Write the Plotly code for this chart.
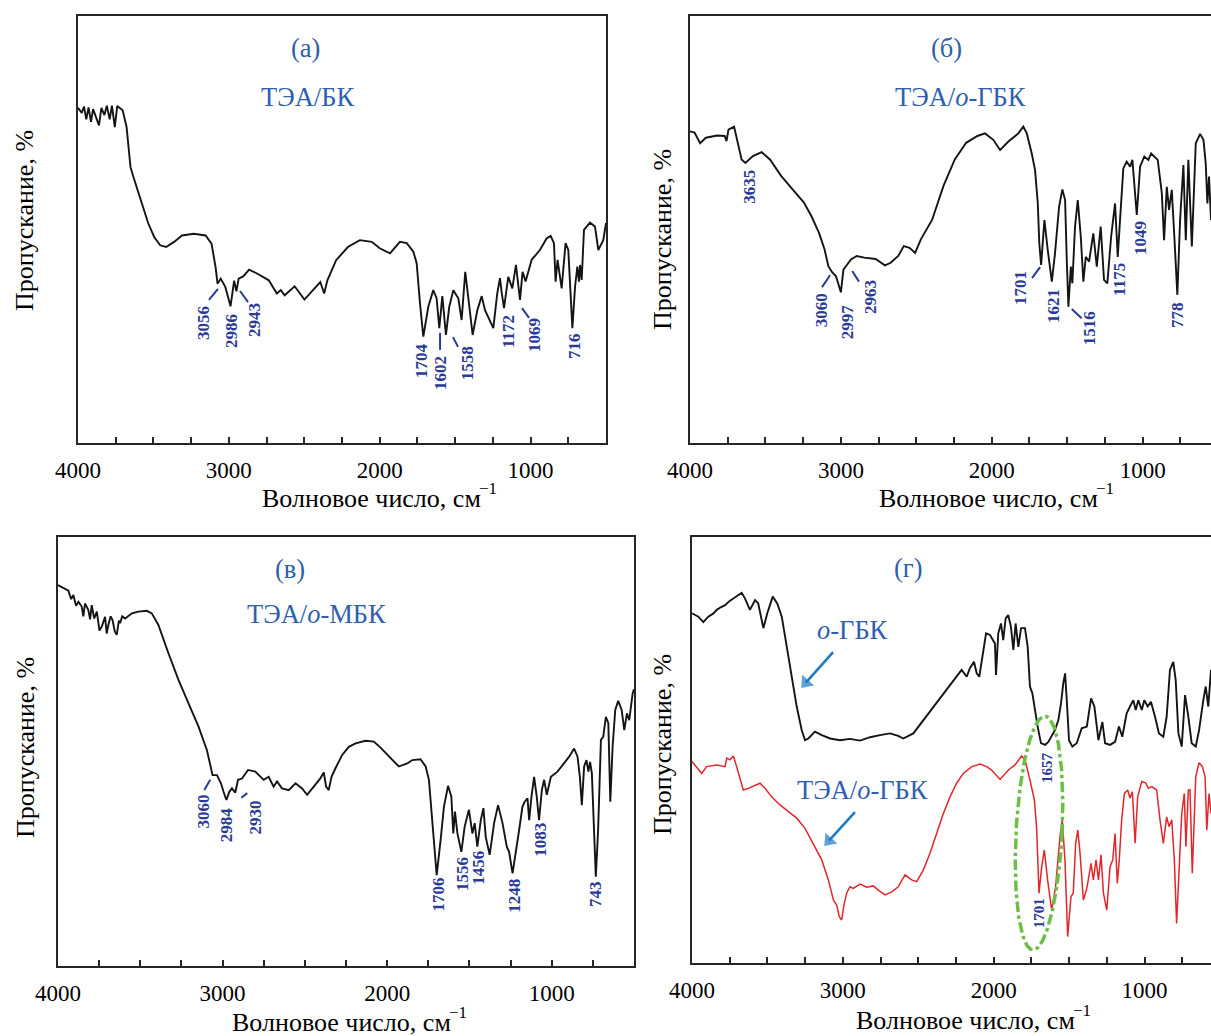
import numpy as np
import plotly.graph_objects as go

W, H = 1211, 1036

# ---------------- data: wavenumber (cm-1) and transmittance (arb. %) ----------------
# (а) ТЭА/БК
a_wn = [4000, 3975, 3960, 3945, 3930, 3914, 3900, 3880, 3861, 3845, 3825, 3809, 3790, 3775, 3756, 3740,
        3720, 3704, 3678, 3652, 3630, 3612, 3573, 3534, 3494, 3455, 3416, 3363, 3311, 3232, 3154, 3115,
        3088, 3075, 3054, 3023, 2989, 2965, 2950, 2935, 2905, 2866, 2813, 2735, 2682, 2656, 2630, 2564,
        2499, 2446, 2394, 2368, 2347, 2289, 2211, 2132, 2053, 2000, 1932, 1866, 1821, 1777, 1755, 1733,
        1711, 1678, 1645, 1623, 1605, 1585, 1561, 1539, 1512, 1479, 1457, 1433, 1413, 1384, 1353, 1324,
        1302, 1269, 1247, 1221, 1203, 1192, 1176, 1148, 1121, 1097, 1070, 1053, 1033, 993, 938, 894,
        867, 845, 834, 821, 794, 768, 750, 723, 705, 690, 679, 672, 661, 646, 606, 573, 551, 518, 500]
a_T = [78.5, 77.3, 78.8, 75.8, 78.6, 75.2, 78.2, 76.4, 74.4, 78.5, 76.8, 79.0, 75.8, 79.0, 74.0, 78.9,
       78.4, 77.9, 74.0, 64.6, 62.0, 60.0, 55.3, 51.4, 48.2, 46.3, 45.9, 47.1, 48.6, 49.0, 48.6, 46.7,
       41.2, 37.3, 38.5, 36.5, 32.0, 38.0, 35.5, 38.5, 39.0, 40.6, 39.7, 38.1, 35.0, 35.8, 34.6, 36.7,
       33.6, 35.8, 37.7, 35.0, 38.1, 42.8, 45.9, 47.5, 47.1, 45.6, 44.4, 47.1, 46.8, 44.8, 42.1, 32.7,
       24.9, 31.9, 35.8, 33.9, 26.9, 34.4, 25.3, 31.9, 35.8, 33.9, 28.8, 40.1, 34.4, 25.3, 31.1, 34.4,
       31.1, 28.4, 26.9, 35.0, 38.6, 35.4, 31.6, 38.9, 36.2, 41.7, 33.5, 40.1, 37.8, 42.9, 45.2, 47.9,
       48.5, 46.8, 37.8, 42.9, 36.2, 46.8, 45.2, 26.9, 36.6, 41.3, 37.8, 41.7, 38.2, 49.9, 51.6, 50.7,
       45.2, 47.5, 51.5]

# (б) ТЭА/о-ГБК
b_wn = [4000, 3970, 3933, 3895, 3820, 3770, 3758, 3745, 3708, 3683, 3658, 3633, 3583, 3525, 3470, 3395,
        3320, 3245, 3195, 3145, 3108, 3083, 3058, 3033, 3000, 2983, 2958, 2933, 2895, 2845, 2770, 2708,
        2670, 2620, 2583, 2545, 2508, 2470, 2395, 2320, 2245, 2170, 2095, 2045, 1990, 1945, 1890, 1824,
        1791, 1768, 1735, 1713, 1695, 1685, 1673, 1651, 1629, 1602, 1581, 1554, 1532, 1514, 1503, 1492,
        1476, 1466, 1448, 1430, 1410, 1393, 1377, 1355, 1327, 1304, 1278, 1256, 1234, 1209, 1183, 1165,
        1150, 1128, 1106, 1083, 1068, 1039, 1017, 989, 962, 944, 900, 873, 858, 840, 825, 807, 790, 770,
        752, 730, 714, 697, 674, 648, 619, 597, 582, 571, 560, 547]
b_T = [73.0, 72.7, 70.2, 71.5, 72.0, 71.9, 70.7, 73.4, 74.1, 70.3, 66.4, 65.6, 67.2, 68.1, 66.4, 62.5,
       59.4, 56.3, 53.1, 49.2, 45.3, 41.4, 40.0, 39.1, 35.3, 40.6, 41.8, 43.0, 43.8, 43.4, 43.1, 41.6,
       42.2, 43.8, 46.1, 45.7, 44.5, 47.7, 52.3, 60.2, 66.4, 70.3, 71.9, 72.5, 71.0, 68.6, 70.6, 72.5,
       74.1, 72.5, 67.8, 63.9, 56.1, 46.8, 41.7, 52.2, 45.2, 37.8, 44.4, 55.3, 59.4, 56.9, 42.9, 31.9,
       41.3, 37.4, 50.7, 56.9, 48.3, 37.8, 43.6, 42.5, 49.1, 41.3, 50.7, 38.2, 37.4, 48.3, 56.1, 43.6,
       52.2, 64.3, 65.9, 64.7, 66.3, 53.4, 64.7, 67.1, 66.3, 67.8, 66.3, 58.5, 47.5, 60.0, 54.6, 59.3, 48.3, 34.7,
       52.2, 65.1, 47.5, 66.3, 46.0, 70.2, 72.4, 71.0, 65.5, 56.1, 62.4, 52.2]

# (в) ТЭА/о-МБК
c_wn = [4000, 3937, 3920, 3907, 3890, 3876, 3856, 3846, 3836, 3816, 3805, 3795, 3780, 3764, 3748, 3734,
        3714, 3704, 3694, 3680, 3669, 3655, 3643, 3630, 3623, 3610, 3592, 3551, 3511, 3460, 3430, 3390,
        3329, 3268, 3207, 3146, 3095, 3075, 3061, 3034, 3010, 2994, 2977, 2959, 2943, 2923, 2906, 2882,
        2845, 2801, 2750, 2720, 2690, 2669, 2639, 2598, 2557, 2517, 2486, 2446, 2405, 2385, 2371, 2355,
        2338, 2314, 2273, 2233, 2192, 2131, 2081, 2040, 1979, 1929, 1878, 1847, 1797, 1766, 1746, 1726,
        1699, 1675, 1655, 1630, 1610, 1598, 1588, 1573, 1549, 1529, 1503, 1482, 1468, 1452, 1431, 1415,
        1401, 1377, 1350, 1326, 1299, 1273, 1259, 1238, 1218, 1198, 1178, 1164, 1147, 1137, 1123, 1107,
        1091, 1077, 1060, 1046, 1030, 1005, 965, 924, 894, 864, 843, 829, 817, 803, 789, 777, 767, 756,
        742, 732, 718, 701, 687, 671, 656, 644, 630, 614, 596, 575, 559, 543, 529, 508, 500]
c_T = [88.8, 87.5, 85.5, 86.5, 84.0, 84.9, 83.8, 81.5, 84.5, 83.0, 80.8, 84.1, 81.0, 82.6, 78.2, 79.1,
       81.4, 77.5, 79.5, 81.5, 80.7, 78.0, 77.2, 80.5, 79.9, 81.5, 81.0, 82.2, 82.6, 82.8, 82.2, 79.5,
       72.9, 66.7, 61.2, 55.8, 50.3, 46.5, 44.5, 44.5, 42.6, 40.6, 38.7, 40.6, 41.4, 40.4, 43.4, 43.7,
       45.7, 45.3, 43.4, 44.1, 41.8, 43.0, 41.4, 41.0, 42.6, 41.4, 39.9, 41.8, 43.8, 45.1, 41.8, 41.0,
       44.1, 46.1, 49.2, 51.1, 51.9, 52.5, 52.3, 50.9, 48.4, 46.5, 47.2, 48.0, 48.2, 46.5, 43.4, 34.0,
       21.2, 29.4, 37.1, 42.0, 39.5, 30.9, 36.0, 30.9, 26.6, 32.5, 36.4, 30.9, 33.3, 27.8, 34.0, 36.8,
       30.1, 25.9, 33.3, 37.5, 33.3, 27.8, 26.6, 21.6, 26.3, 31.7, 37.1, 38.3, 39.1, 34.0, 39.5, 44.1,
       39.5, 34.0, 41.0, 43.4, 39.9, 44.1, 45.3, 47.2, 48.8, 50.7, 48.8, 44.1, 37.5, 46.5, 48.0, 45.3, 47.6, 44.9,
       31.7, 20.8, 31.7, 52.7, 53.4, 58.1, 56.6, 38.3, 51.1, 59.7, 61.8, 59.7, 55.0, 58.9, 57.3, 63.6, 64.5]

# (г) о-ГБК (black)
d1_wn = [4000, 3958, 3925, 3892, 3860, 3836, 3810, 3781, 3750, 3726, 3693, 3671, 3649, 3616, 3582, 3561,
         3527, 3501, 3465, 3435, 3405, 3372, 3339, 3306, 3273, 3251, 3229, 3185, 3140, 3085, 3019, 2953,
         2886, 2820, 2754, 2688, 2633, 2600, 2533, 2467, 2401, 2334, 2268, 2213, 2179, 2158, 2131, 2113,
         2096, 2073, 2051, 2025, 1992, 1985, 1970, 1952, 1937, 1921, 1904, 1886, 1870, 1855, 1837, 1819,
         1793, 1775, 1760, 1744, 1727, 1709, 1687, 1660, 1638, 1616, 1594, 1572, 1554, 1539, 1527, 1516,
         1501, 1479, 1450, 1417, 1383, 1355, 1333, 1306, 1280, 1262, 1229, 1196, 1170, 1148, 1119, 1097,
         1075, 1059, 1042, 1019, 1002, 980, 958, 931, 905, 876, 854, 832, 810, 794, 776, 754, 732, 710,
         688, 661, 639, 611, 595, 578, 560]
d1_T = [82.1, 81.3, 80.0, 81.3, 82.0, 82.9, 83.5, 84.0, 85.0, 85.6, 86.4, 86.9, 85.6, 82.9, 85.2, 84.4,
        78.6, 82.1, 86.0, 84.4, 81.3, 74.2, 66.4, 60.2, 54.7, 52.3, 52.7, 54.3, 53.5, 52.7, 52.3, 52.6,
        52.2, 53.0, 53.5, 53.9, 53.3, 52.7, 53.9, 57.0, 60.2, 63.3, 66.4, 68.8, 67.2, 69.2, 70.7, 68.0,
        67.2, 71.9, 77.4, 77.0, 75.0, 67.6, 77.4, 79.7, 75.8, 80.9, 81.7, 78.9, 73.5, 79.7, 74.2, 78.6,
        78.6, 74.2, 64.9, 63.3, 59.4, 55.5, 51.6, 51.2, 51.9, 53.5, 54.7, 57.0, 61.0, 65.7, 68.0, 61.7,
        52.3, 50.8, 51.6, 55.1, 55.5, 62.1, 60.2, 52.3, 56.6, 51.6, 51.2, 51.9, 55.5, 53.1, 58.6, 60.2,
        61.7, 59.4, 61.7, 59.4, 61.7, 60.2, 61.3, 57.8, 53.9, 53.1, 57.8, 68.8, 70.7, 66.4, 53.9, 50.8, 62.9, 57.8,
        51.6, 50.8, 54.7, 61.7, 64.9, 60.2, 68.8]

# (г) ТЭА/о-ГБК (red)
d2_wn = [4000, 3958, 3936, 3903, 3836, 3781, 3770, 3748, 3726, 3704, 3682, 3660, 3627, 3582, 3549, 3516,
         3472, 3417, 3362, 3306, 3251, 3196, 3140, 3096, 3063, 3041, 3024, 3008, 2993, 2975, 2953, 2931,
         2886, 2842, 2798, 2765, 2721, 2676, 2633, 2588, 2544, 2511, 2467, 2422, 2378, 2334, 2290, 2246,
         2202, 2146, 2091, 2047, 2014, 1958, 1903, 1859, 1815, 1793, 1760, 1731, 1716, 1700, 1682, 1665,
         1643, 1616, 1590, 1561, 1546, 1528, 1510, 1488, 1473, 1457, 1443, 1428, 1406, 1383, 1355, 1340,
         1322, 1306, 1289, 1273, 1251, 1229, 1211, 1196, 1181, 1168, 1152, 1134, 1112, 1097, 1081, 1063,
         1046, 1019, 993, 975, 953, 920, 898, 876, 854, 838, 820, 803, 788, 772, 754, 737, 726, 710, 699,
         684, 661, 639, 617, 599, 588, 573, 560]
d2_T = [47.3, 45.3, 44.5, 46.1, 46.5, 46.1, 48.1, 47.7, 48.6, 46.1, 43.0, 40.6, 41.0, 41.8, 42.2, 41.0,
        39.0, 37.1, 35.5, 34.0, 31.6, 28.1, 24.2, 19.5, 14.8, 13.6, 10.9, 10.1, 13.6, 16.4, 17.9, 17.5,
        18.5, 17.8, 18.1, 17.1, 16.0, 16.7, 17.9, 20.7, 19.5, 19.1, 21.8, 25.8, 30.4, 35.1, 39.0, 42.2,
        44.5, 46.1, 46.7, 46.1, 45.3, 43.1, 45.3, 46.5, 48.6, 47.7, 43.0, 38.3, 32.0, 16.4, 22.6, 26.5,
        19.5, 12.4, 17.9, 29.6, 33.6, 24.2, 6.2, 15.6, 16.4, 28.1, 31.2, 25.8, 14.8, 17.5, 23.4, 19.5,
        24.2, 19.5, 25.4, 16.4, 12.4, 22.6, 24.2, 30.4, 18.7, 24.2, 33.6, 39.8, 40.6, 38.7, 40.2, 28.1,
        39.0, 42.6, 42.3, 41.0, 41.4, 40.6, 33.6, 28.1, 34.3, 32.0, 33.6, 24.2, 9.3, 22.6, 35.1, 39.8, 27.3, 40.6, 40.6,
        21.1, 43.7, 47.0, 46.1, 43.7, 31.2, 39.8, 35.1]

tick_vals = [4000, 3000, 2000, 1000]
tick_text = ["4000", "3000", "2000", "1000"]

# peak labels: (text, wavenumber, transmittance) per panel
a_peaks = [("3056", 3171, 28.1), ("2986", 2986, 26.2), ("2943", 2833, 28.8), ("1704", 1726, 19.2),
           ("1602", 1594, 16.4), ("1558", 1421, 18.7), ("1172", 1150, 26.2), ("1069", 971, 25.3),
           ("716", 712, 22.7)]
b_peaks = [("3635", 3602, 60.0), ("3060", 3132, 31.1), ("2997", 2959, 28.3), ("2963", 2800, 34.2),
           ("1701", 1806, 36.3), ("1621", 1587, 32.1), ("1516", 1355, 26.9), ("1175", 1150, 38.2),
           ("1049", 1017, 48.0), ("778", 765, 30.0)]
c_peaks = [("3060", 3117, 36.1), ("2984", 2977, 32.9), ("2930", 2801, 34.7), ("1706", 1687, 16.6),
           ("1556", 1547, 21.4), ("1456", 1444, 22.8), ("1248", 1231, 16.3), ("1083", 1066, 29.4),
           ("743", 731, 16.8)]
d_peaks = [("1657", 1647, 45.8), ("1701", 1700, 11.7)]

# ---------------- styling ----------------
BLACK = '#141414'
RED = '#E2262B'
PEAK_BLUE = '#2B3A97'
TITLE_BLUE = '#2E60AC'
ARROW_BLUE = '#1E7BC3'
GREEN = '#6CBF46'
FRAME = '#262626'
SERIF = 'Liberation Serif, Times New Roman, serif'

# panel frames in pixels (left, right, top, bottom) and x-range end
geo = [
    dict(l=78, r=606, t=16, b=443, xend=500, mirror_y=True),
    dict(l=690, r=1211, t=16, b=443, xend=547, mirror_y=False),
    dict(l=58, r=634, t=537, b=966, xend=500, mirror_y=True),
    dict(l=692, r=1211, t=537, b=963, xend=560, mirror_y=False),
]

fig = go.Figure()

def add_line(i, wn, T, color, width=1.9):
    fig.add_trace(go.Scatter(x=wn, y=T, mode='lines', line=dict(color=color, width=width),
                             xaxis=f'x{i}', yaxis=f'y{i}', showlegend=False, hoverinfo='skip'))

add_line(1, a_wn, a_T, BLACK)
add_line(2, b_wn, b_T, BLACK)
add_line(3, c_wn, c_T, BLACK)
add_line(4, d1_wn, d1_T, BLACK)
add_line(4, d2_wn, d2_T, RED, 1.5)

# green dash-dot ellipse in panel (г): centre, semi-axes in px, tilt
g = geo[3]
px_per_wn = (g['r'] - g['l']) / (4000 - g['xend'])
px_per_T = (g['b'] - g['t']) / 100.0
tt = np.linspace(0, 2 * np.pi, 240)
ea, eb, phi = 117.0, 23.0, np.deg2rad(3)
dx = eb * np.cos(tt)
dy = ea * np.sin(tt)
xr = dx * np.cos(phi) + dy * np.sin(phi)
yr = -dx * np.sin(phi) + dy * np.cos(phi)
fig.add_trace(go.Scatter(x=1700 - xr / px_per_wn, y=30.5 + yr / px_per_T, mode='lines',
                         line=dict(color=GREEN, width=3.5, dash='dashdot'),
                         xaxis='x4', yaxis='y4', showlegend=False, hoverinfo='skip'))

# blue arrows in panel (г): tail -> head
for (tx, ty, hx, hy) in [(3065, 73.0, 3245, 65.8), (2920, 35.4, 3092, 28.7)]:
    fig.add_trace(go.Scatter(x=[tx, hx], y=[ty, hy], mode='lines+markers',
                             line=dict(color=ARROW_BLUE, width=2.6),
                             marker=dict(symbol=['circle', 'triangle-up'], size=[0.1, 14],
                                         color=ARROW_BLUE, angleref='previous', line=dict(width=0)),
                             xaxis='x4', yaxis='y4', showlegend=False, hoverinfo='skip'))

layout = dict(width=W, height=H, margin=dict(l=0, r=0, t=0, b=0, autoexpand=False),
              paper_bgcolor='white', plot_bgcolor='white', showlegend=False)
minor_vals = [v for v in range(500, 4001, 250) if v not in tick_vals]
for i, gg in enumerate(geo, start=1):
    layout[f'xaxis{i}'] = dict(
        domain=[gg['l'] / W, gg['r'] / W], range=[4000, gg['xend']], anchor=f'y{i}',
        showline=True, linecolor=FRAME, linewidth=2, mirror=True, automargin=False,
        ticks='inside', ticklen=6, tickwidth=1.5, tickcolor=FRAME,
        tickmode='array', tickvals=tick_vals, ticktext=tick_text,
        tickfont=dict(family=SERIF, size=23, color='black'),
        minor=dict(tickmode='array', tickvals=minor_vals, ticks='inside', ticklen=6, tickwidth=1.5, tickcolor=FRAME),
        showgrid=False, zeroline=False, ticklabelstandoff=5)
    layout[f'yaxis{i}'] = dict(
        domain=[1 - gg['b'] / H, 1 - gg['t'] / H], range=[0, 100], anchor=f'x{i}',
        showline=True, linecolor=FRAME, linewidth=2, mirror=gg['mirror_y'], automargin=False,
        showticklabels=False, ticks='', showgrid=False, zeroline=False)

ann = []
# x-axis titles: main text right-anchored, superscript "−1" placed after it
xt = [(483, 498), (1100, 498), (453, 1022), (1077, 1020)]
yt = [(25, 221), (663, 240), (25, 748), (662, 745)]
for (px, py) in xt:
    ann.append(dict(x=px / W, y=1 - py / H, xref='paper', yref='paper', showarrow=False,
                    text='Волновое число, см', xanchor='right', yanchor='middle',
                    font=dict(family=SERIF, size=26, color='black')))
    ann.append(dict(x=px / W, y=1 - py / H, xref='paper', yref='paper', showarrow=False,
                    text='−1', xanchor='left', yanchor='middle', yshift=10, xshift=-6,
                    font=dict(family=SERIF, size=17, color='black')))
for (px, py) in yt:
    ann.append(dict(x=px / W, y=1 - py / H, xref='paper', yref='paper', showarrow=False,
                    text='Пропускание, %', textangle=-90, xanchor='center', yanchor='middle',
                    font=dict(family=SERIF, size=26, color='black')))

# panel titles
titles = [(1, '(а)', 2489, 92.5), (1, 'ТЭА/БК', 2482, 81.0),
          (2, '(б)', 2303, 92.5), (2, 'ТЭА/<i>о</i>-ГБК', 2210, 81.0),
          (3, '(в)', 2588, 92.5), (3, 'ТЭА/<i>о</i>-МБК', 2430, 82.1),
          (4, '(г)', 2568, 92.7), (4, '<i>о</i>-ГБК', 2933, 78.2), (4, 'ТЭА/<i>о</i>-ГБК', 2867, 40.6)]
for i, txt, x, y in titles:
    ann.append(dict(x=x, y=y, xref=f'x{i}', yref=f'y{i}', text=txt, showarrow=False,
                    xanchor='center', yanchor='middle', font=dict(family=SERIF, size=26.5, color=TITLE_BLUE)))

# peak labels
for i, peaks, size in [(1, a_peaks, 17), (2, b_peaks, 17), (3, c_peaks, 17), (4, d_peaks, 15)]:
    for txt, x, y in peaks:
        ann.append(dict(x=x, y=y, xref=f'x{i}', yref=f'y{i}', text=f'<b>{txt}</b>', showarrow=False,
                        textangle=-90, xanchor='center', yanchor='middle',
                        font=dict(family=SERIF, size=size, color=PEAK_BLUE)))
layout['annotations'] = ann

# leader lines for peak labels
leaders = [(1, 3132, 33.5, 3072, 36.1), (1, 2873, 33.0, 2926, 35.6), (1, 1600, 25.8, 1600, 21.8),
           (1, 1514, 24.8, 1481, 22.5), (1, 1057, 31.6, 1010, 29.3),
           (2, 3125, 36.5, 3072, 39.3), (2, 2880, 37.8, 2925, 40.3), (2, 1733, 38.6, 1680, 41.2),
           (2, 1470, 31.4, 1404, 29.2),
           (3, 3111, 41.0, 3075, 43.4), (3, 2886, 39.2, 2850, 40.3)]
layout['shapes'] = [dict(type='line', xref=f'x{i}', yref=f'y{i}', x0=x0, y0=y0, x1=x1, y1=y1,
                         line=dict(color=PEAK_BLUE, width=2)) for i, x0, y0, x1, y1 in leaders]

fig.update_layout(**layout)
fig.write_html("out.html")
